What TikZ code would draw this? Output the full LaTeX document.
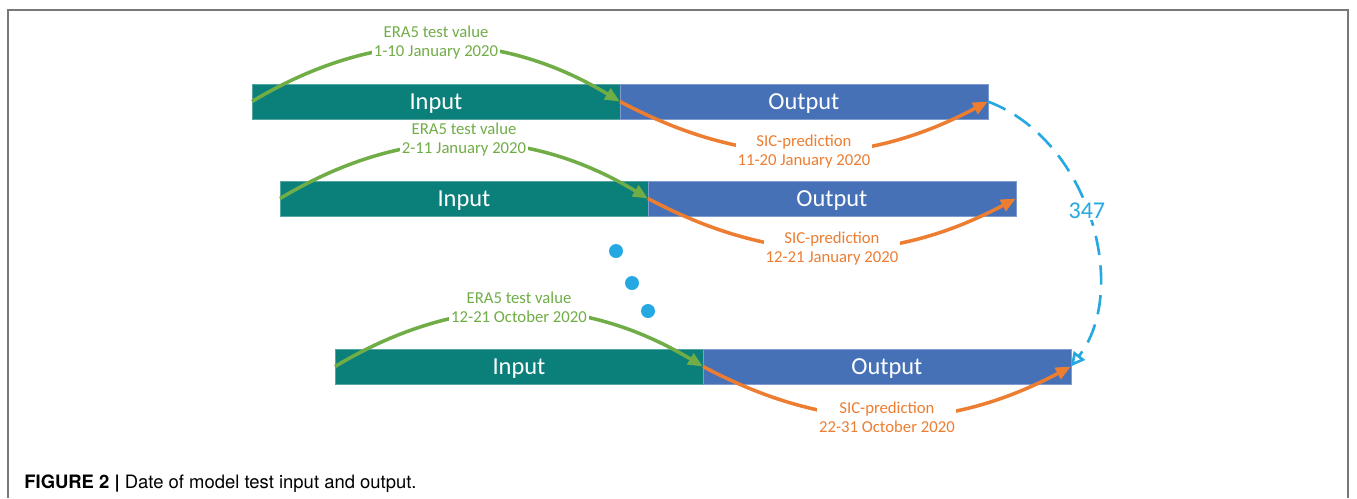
\documentclass[tikz,border=0pt]{standalone}
\usepackage{fontspec}
\setmainfont{Carlito}
\newfontfamily\capfont{TeX Gyre Heros}
\usepackage{tikz}
\usetikzlibrary{arrows.meta,positioning}
\usepackage{xcolor}
\definecolor{inteal}{RGB}{11,128,122}
\definecolor{outblue}{RGB}{70,113,183}
\definecolor{eragreen}{RGB}{112,173,71}
\definecolor{sicorange}{RGB}{237,125,49}
\definecolor{runblue}{RGB}{38,168,226}
\definecolor{framegray}{RGB}{120,120,120}

\tikzset{
  bar/.style={minimum width=7.36cm, minimum height=0.7cm, inner sep=0pt, outer sep=0pt,
    text height=9pt, text depth=0pt,
    fill=#1, draw=#1!70!white, line width=0.4pt, text=white, font=\fontsize{13.9}{16}\selectfont},
  era/.style={eragreen, line width=2pt, -{Triangle[length=8.5pt,width=7pt]}},
  sic/.style={sicorange, line width=2pt, -{Triangle[length=8.5pt,width=7pt]}},
  datelabel/.style={fill=white, inner sep=1pt, align=center, text=#1,
    font=\fontsize{9.5}{10.8}\selectfont},
}

\begin{document}
\begin{tikzpicture}[x=0.02cm, y=-0.02cm]
	\useasboundingbox (0,0) rectangle (1357,498);
	\draw[framegray, line width=1.1pt] (8,498) -- (8,10) -- (1348,10) -- (1348,498);
	\foreach \i/\x/\y/\era/\sic in {1/436/101.5/1-10 January 2020/11-20 January 2020,
		2/464/198.5/2-11 January 2020/12-21 January 2020,
		3/519/366.5/12-21 October 2020/22-31 October 2020}
	{
		\node[bar=inteal] (in\i) at (\x,\y) {Input};
		\node[bar=outblue, right=0pt of in\i] (out\i) {Output};
		\draw[era] (in\i.west) to[bend left=31]
			node[datelabel=eragreen, yshift=2pt] {ERA5 test value\\\era} (in\i.east);
		\draw[sic] (out\i.west) to[bend right=28]
			node[datelabel=sicorange] {SIC-prediction\\\sic} (out\i.east);
	}
	\foreach \x/\y in {616/251,632/283,648/311}
	\fill[runblue] (\x,\y) circle (0.14cm);
	\draw[runblue, line width=1.5pt, dash pattern=on 11pt off 6pt, -{Triangle[open,length=8pt,width=8pt]}]
		(out1.east) .. controls (1090,140) and (1130,290) .. (out3.east)
		node[pos=0.47, fill=white, inner sep=1pt, font=\fontsize{13.7}{16}\selectfont] (runs) {347};
	\node[anchor=west, inner sep=0pt, font=\capfont\fontsize{10.5}{12}\selectfont] (cap) at (24,484)
		{\textbf{FIGURE 2 |} Date of model test input and output.};
\end{tikzpicture}
\end{document}
